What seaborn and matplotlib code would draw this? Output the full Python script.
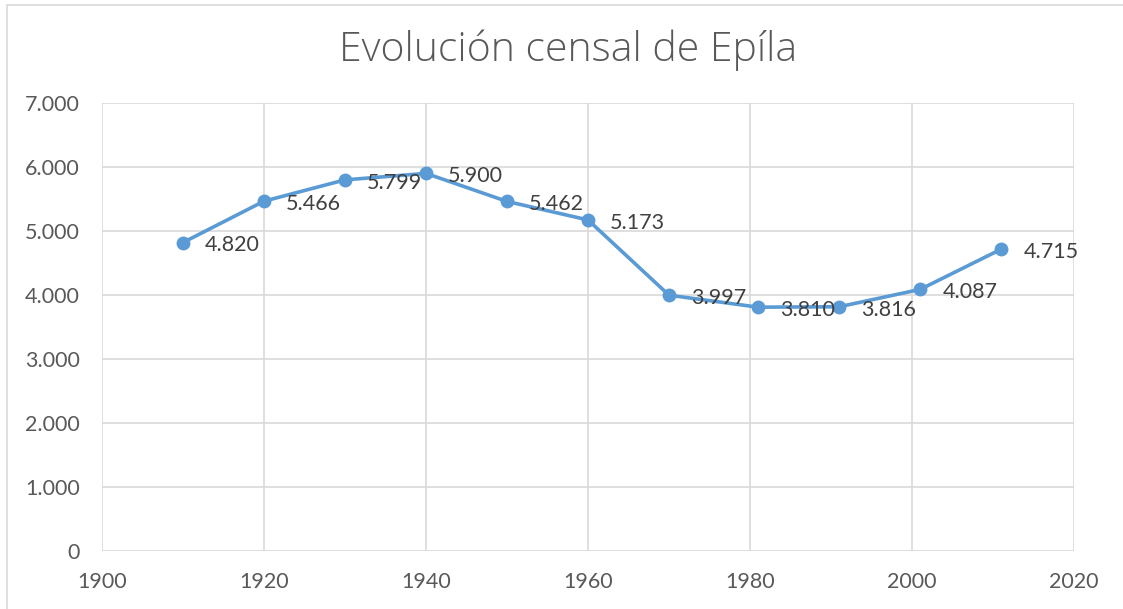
import matplotlib
matplotlib.use("Agg")
import matplotlib.pyplot as plt
import seaborn as sns
import pandas as pd
from matplotlib.patches import Rectangle

years = [1910, 1920, 1930, 1940, 1950, 1960, 1970, 1981, 1991, 2001, 2011]
population = [4820, 5466, 5799, 5900, 5462, 5173, 3997, 3810, 3816, 4087, 4715]
x_ticks = [1900, 1920, 1940, 1960, 1980, 2000, 2020]
y_ticks = [0, 1000, 2000, 3000, 4000, 5000, 6000, 7000]
title = "Evolución censal de Epíla"

def fmt(v):
    return f"{v:,}".replace(",", ".")

sns.set_theme(style="white")
plt.rcParams['font.family'] = ['Lato', 'DejaVu Sans']

fig = plt.figure(figsize=(11.23, 6.09), dpi=100)
ax = fig.add_axes([102/1123, 1-551/609, (1074-102)/1123, (551-103)/609])

df = pd.DataFrame({"year": years, "pop": population})
sns.lineplot(data=df, x="year", y="pop", ax=ax, color="#5B9BD5", linewidth=2.6,
             marker="o", markersize=10, markeredgewidth=0, zorder=3)

for xv, yv in zip(years, population):
    ax.annotate(fmt(yv), (xv, yv), xytext=(16, -2), textcoords="offset points",
                ha="left", va="center", fontsize=15.5, color="#404040", zorder=4)

ax.set_xlim(1900, 2020)
ax.set_ylim(0, 7000)
ax.set_xticks(x_ticks)
ax.set_yticks(y_ticks)
ax.set_xticklabels([str(t) for t in x_ticks])
ax.set_yticklabels([fmt(t) for t in y_ticks])
ax.tick_params(axis="both", labelsize=15.5, colors="#595959", length=0)
ax.tick_params(axis="x", pad=15)
ax.tick_params(axis="y", pad=16)
ax.grid(True, color="#D9D9D9", linewidth=1.2)
for s in ax.spines.values():
    s.set_visible(False)
ax.set_xlabel("")
ax.set_ylabel("")

fig.text(568/1123, 1-50/609, title, ha="center", va="center", fontsize=29.5,
         color="#595959", fontweight="light", family=["Open Sans", "DejaVu Sans"])

fig.patches.append(Rectangle((7/1123, -0.1), 1.2, 1 - 5/609 + 0.1, transform=fig.transFigure,
                             fill=False, edgecolor="#D9D9D9", linewidth=1.2))

fig.savefig("out.png", dpi=100)
